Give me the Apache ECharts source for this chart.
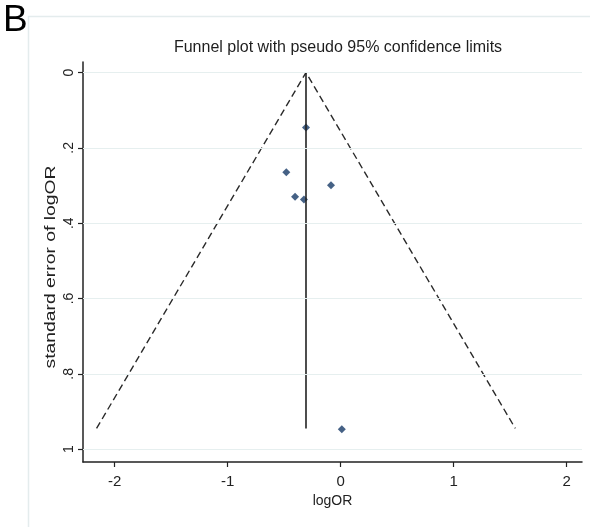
<!DOCTYPE html>
<html>
<head>
<meta charset="utf-8">
<script src="https://cdn.jsdelivr.net/npm/echarts@6/dist/echarts.min.js"></script>
<style>html,body{margin:0;padding:0;background:#fff}#c{width:590px;height:527px}</style>
</head>
<body>
<div id="c"></div>
<script>
// Study estimates: [logOR, standard error]
var studyLogOR = [-0.307, -0.481, -0.086, -0.404, -0.325, 0.01];
var studySE    = [0.146, 0.265, 0.299, 0.330, 0.337, 0.947];
// Pooled estimate line
var pooledLogOR = -0.307;
var pooledSE = [0, 0.945];
// Pseudo 95% confidence limit lines
var funnelLogOR = [-2.16, -0.307, 1.545];
var funnelSE    = [0.945, 0, 0.945];
// Tick labels
var xTicks = [-2, -1, 0, 1, 2];
var yTicks = [0, 0.2, 0.4, 0.6, 0.8, 1];

function fmtY(v){ if (v === 0) return '0'; if (v === 1) return '1'; return String(v).replace('0.', '.'); }

var chart = echarts.init(document.getElementById('c'), null, {renderer:'canvas'});
var pts = studyLogOR.map(function(x,i){ return [x, studySE[i]]; });
var funnel = funnelLogOR.map(function(x,i){ return [x, funnelSE[i]]; });
var fam = '"Liberation Sans", Arial, sans-serif';

chart.setOption({
  animation: false,
  backgroundColor: '#fff',
  graphic: [
    {type:'rect', shape:{x:28.5, y:16.5, width:570, height:520}, style:{fill:'none', stroke:'#e4eced', lineWidth:1.5}, z:-10},
    {type:'text', left:3, top:2, style:{text:'B', fill:'#000', font:'37px ' + fam}},
    {type:'text', x:51, y:267, rotation:Math.PI/2, scaleX:1.38, scaleY:1,
     style:{text:'standard error of logOR', fill:'#222', font:'14px ' + fam, align:'center', verticalAlign:'middle'}}
  ],
  title: {
    text: 'Funnel plot with pseudo 95% confidence limits',
    left: 333, top: 35, textAlign: 'center',
    textStyle: {fontFamily: fam, fontSize: 16, fontWeight: 'normal', color: '#1e1e1e'}
  },
  grid: {left: 83, right: 8, top: 62, bottom: 65, containLabel: false},
  xAxis: {
    type: 'value', min: -2.28, max: 2.135,
    name: 'logOR', nameLocation: 'middle', nameGap: 31,
    nameTextStyle: {fontFamily: fam, fontSize: 14, color: '#222'},
    axisLine: {show: true, onZero: false, lineStyle: {color: '#222', width: 1.5}},
    axisTick: {show: true, length: 5, lineStyle: {color: '#222', width: 1.2}, customValues: xTicks},
    axisLabel: {customValues: xTicks, fontFamily: fam, fontSize: 15, color: '#222', margin: 12},
    splitLine: {show: false}
  },
  yAxis: {
    type: 'value', inverse: true, min: -0.028, max: 1.034,
    axisLine: {show: true, onZero: false, lineStyle: {color: '#222', width: 1.5}},
    axisTick: {show: true, length: 5, lineStyle: {color: '#222', width: 1.2}, customValues: yTicks},
    axisLabel: {customValues: yTicks, rotate: 90, formatter: fmtY, fontFamily: fam, fontSize: 14, color: '#222', margin: 7},
    splitLine: {show: false}
  },
  series: [
    {
      type: 'line', data: [], silent: true,
      markLine: {
        silent: true, symbol: 'none', label: {show: false},
        lineStyle: {color: '#e6efef', width: 1.2, type: 'solid'},
        data: yTicks.map(function(v){ return {yAxis: v}; })
      }
    },
    {
      type: 'line', data: funnel, symbol: 'none', silent: true,
      lineStyle: {color: '#2a2a2a', width: 1.4, type: [7, 4]}
    },
    {
      type: 'line', data: [[pooledLogOR, pooledSE[0]], [pooledLogOR, pooledSE[1]]], symbol: 'none', silent: true,
      lineStyle: {color: '#222', width: 1.6}
    },
    {
      type: 'scatter', data: pts, symbol: 'diamond', symbolSize: 8,
      itemStyle: {color: '#163a66'}
    }
  ]
});
</script>
</body>
</html>
